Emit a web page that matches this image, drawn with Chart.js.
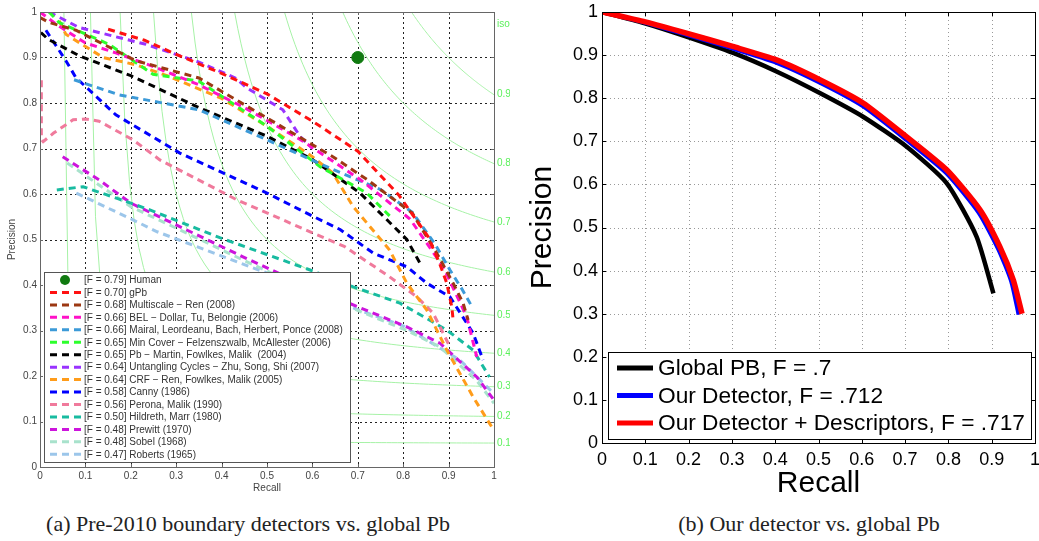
<!DOCTYPE html>
<html>
<head>
<meta charset="utf-8">
<script src="https://cdn.jsdelivr.net/npm/chart.js@4.4.1/dist/chart.umd.min.js"></script>
<style>
  body { margin: 0; background: #fff; width: 1039px; height: 541px; position: relative; overflow: hidden; }
  #left { position: absolute; left: 0; top: 0; }
  #right { position: absolute; left: 520px; top: 0; }
  .cap { position: absolute; top: 513px; font-family: "Liberation Serif", "Times New Roman", serif; font-size: 22px; line-height: 22px; color: #222; text-align: center; white-space: nowrap; }
</style>
</head>
<body>
<canvas id="left" width="510" height="500"></canvas>
<canvas id="right" width="519" height="500"></canvas>
<div class="cap" style="left:0;width:496px">(a) Pre-2010 boundary detectors vs. global Pb</div>
<div class="cap" style="left:609px;width:400px">(b) Our detector vs. global Pb</div>

<script>
const FONT = '"Liberation Sans", Arial, Helvetica, sans-serif';

// ---- left panel: older detectors on BSDS ----
const isoLevels = [0.1, 0.2, 0.3, 0.4, 0.5, 0.6, 0.7, 0.8, 0.9];

const humanR = [0.7];
const humanP = [0.9];

const gpbR = [0.15, 0.23, 0.30, 0.40, 0.50, 0.60, 0.70, 0.79, 0.855, 0.88, 0.896, 0.907, 0.91];
const gpbP = [0.962, 0.938, 0.907, 0.865, 0.82, 0.76, 0.694, 0.598, 0.506, 0.448, 0.404, 0.352, 0.323];

const multiR = [0, 0.02, 0.079, 0.211, 0.35, 0.5, 0.645, 0.72, 0.82, 0.874, 0.91, 0.932, 0.943];
const multiP = [0.988, 0.977, 0.96, 0.893, 0.855, 0.767, 0.682, 0.632, 0.558, 0.47, 0.404, 0.36, 0.323];

const belR = [0, 0.04, 0.10, 0.167, 0.25, 0.35, 0.45, 0.573, 0.705, 0.815, 0.888, 0.94, 0.962];
const belP = [1.0, 0.97, 0.932, 0.91, 0.88, 0.84, 0.79, 0.72, 0.632, 0.545, 0.44, 0.33, 0.242];

const mairalR = [0.075, 0.174, 0.35, 0.5, 0.645, 0.75, 0.82, 0.87, 0.903, 0.93, 0.95];
const mairalP = [0.851, 0.818, 0.785, 0.719, 0.654, 0.61, 0.56, 0.49, 0.433, 0.39, 0.355];

const mincoverR = [0.02, 0.042, 0.152, 0.249, 0.35, 0.5, 0.617, 0.72, 0.778];
const mincoverP = [1.0, 0.977, 0.929, 0.863, 0.848, 0.749, 0.66, 0.602, 0.544];

const pbR = [0.002, 0.018, 0.086, 0.2, 0.35, 0.5, 0.6, 0.705, 0.808, 0.837];
const pbP = [0.955, 0.94, 0.904, 0.86, 0.79, 0.727, 0.676, 0.602, 0.5, 0.448];

const cyclesR = [0.02, 0.086, 0.233, 0.35, 0.43, 0.456, 0.535, 0.573, 0.6];
const cyclesP = [1.0, 0.966, 0.929, 0.89, 0.855, 0.833, 0.785, 0.726, 0.70];

const crfR = [0.042, 0.057, 0.139, 0.211, 0.28, 0.4, 0.5, 0.6, 0.645, 0.69, 0.77, 0.808, 0.852, 0.896, 0.954, 1.0];
const crfP = [0.981, 0.951, 0.9, 0.884, 0.86, 0.81, 0.749, 0.682, 0.646, 0.572, 0.477, 0.404, 0.345, 0.257, 0.154, 0.08];

const cannyR = [0.013, 0.057, 0.079, 0.167, 0.308, 0.5, 0.595, 0.661, 0.734, 0.808, 0.852, 0.903, 0.954, 0.976];
const cannyP = [0.96, 0.893, 0.856, 0.774, 0.69, 0.602, 0.554, 0.522, 0.47, 0.44, 0.404, 0.374, 0.294, 0.235];

const peronaR = [0.003, 0.003, 0.007, 0.03, 0.073, 0.1, 0.13, 0.205, 0.264, 0.434, 0.595, 0.67, 0.77, 0.83, 0.866, 0.903];
const peronaP = [0.85, 0.72, 0.715, 0.734, 0.763, 0.765, 0.76, 0.719, 0.675, 0.587, 0.517, 0.485, 0.418, 0.374, 0.338, 0.264];

const hildrethR = [0.037, 0.095, 0.2, 0.242, 0.396, 0.595, 0.69, 0.793, 0.896, 0.954, 0.99];
const hildrethP = [0.609, 0.616, 0.58, 0.565, 0.504, 0.433, 0.396, 0.36, 0.301, 0.257, 0.198];

const prewittR = [0.05, 0.13, 0.2, 0.3, 0.447, 0.55, 0.661, 0.808, 0.881, 0.962, 1.0];
const prewittP = [0.682, 0.631, 0.58, 0.532, 0.462, 0.415, 0.368, 0.308, 0.272, 0.198, 0.147];

const sobelR = [0.06, 0.13, 0.2, 0.3, 0.447, 0.55, 0.661, 0.808, 0.881, 0.962, 1.0];
const sobelP = [0.668, 0.62, 0.572, 0.525, 0.455, 0.408, 0.36, 0.30, 0.264, 0.19, 0.14];

const robertsR = [0.08, 0.205, 0.258, 0.463, 0.6, 0.683, 0.8, 0.925, 1.0];
const robertsP = [0.602, 0.543, 0.517, 0.44, 0.39, 0.352, 0.31, 0.235, 0.161];

// ---- right panel: our detector vs global Pb ----
const globalR = [0, 0.095, 0.195, 0.303, 0.403, 0.503, 0.603, 0.703, 0.796, 0.865, 0.904];
const globalP = [1.0, 0.975, 0.943, 0.905, 0.862, 0.812, 0.757, 0.688, 0.603, 0.479, 0.347];

const oursR = [0, 0.1, 0.195, 0.302, 0.403, 0.503, 0.603, 0.703, 0.796, 0.87, 0.915, 0.945, 0.962];
const oursP = [1.0, 0.975, 0.947, 0.915, 0.882, 0.836, 0.781, 0.703, 0.625, 0.534, 0.45, 0.375, 0.298];

const descR = [0, 0.1, 0.195, 0.302, 0.403, 0.503, 0.603, 0.703, 0.796, 0.873, 0.919, 0.95, 0.97];
const descP = [1.0, 0.977, 0.951, 0.92, 0.889, 0.843, 0.789, 0.711, 0.634, 0.541, 0.455, 0.378, 0.30];

const pts = (R, P) => R.map((r, i) => ({ x: r, y: P[i] }));
const fmt = v => String(Math.round(v * 10) / 10);

// pin the axis boxes so the plot areas land where they should
function fixedAxis(size) {
  return scale => {
    if (scale.isHorizontal()) scale.height = size; else scale.width = size;
    scale.paddingLeft = scale.paddingRight = scale.paddingTop = scale.paddingBottom = 0;
  };
}

function dashed(label, R, P, color) {
  return {
    label, data: pts(R, P), borderColor: color, backgroundColor: color,
    borderWidth: 3, borderDash: [7, 5], pointRadius: 0, tension: 0, fill: false
  };
}

// dotted grid at the inner ticks
function dottedGrid(color, dash) {
  return {
    id: 'dottedGrid',
    beforeDatasetsDraw(chart) {
      const { ctx, chartArea: a, scales: { x, y } } = chart;
      ctx.save();
      ctx.strokeStyle = color;
      ctx.lineWidth = 1;
      ctx.setLineDash(dash);
      ctx.beginPath();
      x.ticks.forEach(t => {
        if (t.value <= 0 || t.value >= 1) return;
        const px = Math.round(x.getPixelForValue(t.value)) + 0.5;
        ctx.moveTo(px, a.top); ctx.lineTo(px, a.bottom);
      });
      y.ticks.forEach(t => {
        if (t.value <= 0 || t.value >= 1) return;
        const py = Math.round(y.getPixelForValue(t.value)) + 0.5;
        ctx.moveTo(a.left, py); ctx.lineTo(a.right, py);
      });
      ctx.stroke();
      ctx.restore();
    }
  };
}

// box outline plus short inward ticks, matlab style
function frame(color, tickLen) {
  return {
    id: 'frame',
    afterDraw(chart) {
      const { ctx, chartArea: a, scales: { x, y } } = chart;
      ctx.save();
      ctx.strokeStyle = color;
      ctx.lineWidth = 1;
      ctx.beginPath();
      x.ticks.forEach(t => {
        const px = Math.round(x.getPixelForValue(t.value)) + 0.5;
        ctx.moveTo(px, a.bottom); ctx.lineTo(px, a.bottom - tickLen);
        ctx.moveTo(px, a.top); ctx.lineTo(px, a.top + tickLen);
      });
      y.ticks.forEach(t => {
        const py = Math.round(y.getPixelForValue(t.value)) + 0.5;
        ctx.moveTo(a.left, py); ctx.lineTo(a.left + tickLen, py);
        ctx.moveTo(a.right, py); ctx.lineTo(a.right - tickLen, py);
      });
      ctx.stroke();
      ctx.strokeRect(Math.round(a.left) + 0.5, Math.round(a.top) + 0.5,
        Math.round(a.right - a.left), Math.round(a.bottom - a.top));
      ctx.restore();
    }
  };
}

const isoCurves = {
  id: 'isoCurves',
  beforeDatasetsDraw(chart) {
    const { ctx, chartArea: a, scales: { x, y } } = chart;
    ctx.save();
    ctx.beginPath();
    ctx.rect(a.left, a.top, a.right - a.left, a.bottom - a.top);
    ctx.clip();
    ctx.strokeStyle = '#a6f2a6';
    ctx.lineWidth = 1;
    isoLevels.forEach(f => {
      const r0 = f / (2 - f);
      ctx.beginPath();
      for (let k = 0; k <= 80; k++) {
        const r = r0 + (1 - r0) * k / 80;
        const p = f * r / (2 * r - f);
        const px = x.getPixelForValue(r), py = y.getPixelForValue(p);
        if (k === 0) ctx.moveTo(px, py); else ctx.lineTo(px, py);
      }
      ctx.stroke();
    });
    ctx.restore();
  },
  afterDraw(chart) {
    const { ctx, chartArea: a, scales: { y } } = chart;
    ctx.save();
    ctx.fillStyle = '#5cf05c';
    ctx.font = '10px ' + FONT;
    ctx.textBaseline = 'middle';
    ctx.fillText('iso-F', a.right + 3, a.top + 12);
    isoLevels.forEach(f => {
      ctx.fillText(fmt(f), a.right + 3, y.getPixelForValue(f / (2 - f)));
    });
    ctx.restore();
  }
};

const leftLegend = {
  id: 'leftLegend',
  afterDraw(chart) {
    const { ctx, chartArea: a } = chart;
    const w = 306, h = 190, x0 = a.left + 4, y0 = a.bottom - 5 - h;
    ctx.save();
    ctx.fillStyle = '#fff';
    ctx.fillRect(x0, y0, w, h);
    ctx.strokeStyle = '#555';
    ctx.lineWidth = 1;
    ctx.strokeRect(Math.round(x0) + 0.5, Math.round(y0) + 0.5, w, h);
    ctx.font = '10px ' + FONT;
    ctx.textBaseline = 'middle';
    chart.data.datasets.forEach((ds, i) => {
      const yy = y0 + 8 + i * 12.45;
      if (ds.showLine === false) {
        ctx.fillStyle = ds.backgroundColor;
        ctx.beginPath();
        ctx.arc(x0 + 21, yy, 5, 0, Math.PI * 2);
        ctx.fill();
      } else {
        ctx.strokeStyle = ds.borderColor;
        ctx.lineWidth = 3;
        ctx.setLineDash([7, 5]);
        ctx.beginPath();
        ctx.moveTo(x0 + 6, yy);
        ctx.lineTo(x0 + 37, yy);
        ctx.stroke();
        ctx.setLineDash([]);
      }
      ctx.fillStyle = '#333';
      ctx.fillText(ds.label, x0 + 40, yy + 0.5);
    });
    ctx.restore();
  }
};

new Chart(document.getElementById('left'), {
  type: 'line',
  data: {
    datasets: [
      { label: '[F = 0.79] Human', data: pts(humanR, humanP), showLine: false,
        pointRadius: 6, pointHoverRadius: 6, backgroundColor: '#107a10', borderColor: '#107a10' },
      dashed('[F = 0.70] gPb', gpbR, gpbP, '#ff1111'),
      dashed('[F = 0.68] Multiscale \u2212 Ren (2008)', multiR, multiP, '#9c3812'),
      dashed('[F = 0.66] BEL \u2212 Dollar, Tu, Belongie (2006)', belR, belP, '#ff11c8'),
      dashed('[F = 0.66] Mairal, Leordeanu, Bach, Herbert, Ponce (2008)', mairalR, mairalP, '#3c9ad8'),
      dashed('[F = 0.65] Min Cover \u2212 Felzenszwalb, McAllester (2006)', mincoverR, mincoverP, '#2cff2c'),
      dashed('[F = 0.65] Pb \u2212 Martin, Fowlkes, Malik  (2004)', pbR, pbP, '#000000'),
      dashed('[F = 0.64] Untangling Cycles \u2212 Zhu, Song, Shi (2007)', cyclesR, cyclesP, '#9933ff'),
      dashed('[F = 0.64] CRF \u2212 Ren, Fowlkes, Malik (2005)', crfR, crfP, '#ff9c1a'),
      dashed('[F = 0.58] Canny (1986)', cannyR, cannyP, '#0000ff'),
      dashed('[F = 0.56] Perona, Malik (1990)', peronaR, peronaP, '#f07a9c'),
      dashed('[F = 0.50] Hildreth, Marr (1980)', hildrethR, hildrethP, '#18bba0'),
      dashed('[F = 0.48] Prewitt (1970)', prewittR, prewittP, '#cc14dc'),
      dashed('[F = 0.48] Sobel (1968)', sobelR, sobelP, '#a8e2cc'),
      dashed('[F = 0.47] Roberts (1965)', robertsR, robertsP, '#9cc6ea')
    ]
  },
  options: {
    responsive: false,
    animation: false,
    layout: { padding: { left: 0, top: 12, right: 16, bottom: 0 } },
    plugins: { legend: { display: false }, tooltip: { enabled: false } },
    scales: {
      x: {
        type: 'linear', min: 0, max: 1,
        afterFit: fixedAxis(33),
        ticks: { stepSize: 0.1, padding: 3, color: '#444', autoSkip: false, maxRotation: 0,
                 font: { size: 10, family: FONT }, callback: fmt },
        grid: { display: false, drawTicks: false },
        border: { display: false },
        title: { display: true, text: 'Recall', color: '#444', font: { size: 10, family: FONT },
                 padding: { top: 0, bottom: 6 } }
      },
      y: {
        type: 'linear', min: 0, max: 1,
        afterFit: fixedAxis(40),
        ticks: { stepSize: 0.1, padding: 3, color: '#444', autoSkip: false,
                 font: { size: 10, family: FONT }, callback: fmt },
        grid: { display: false, drawTicks: false },
        border: { display: false },
        title: { display: true, text: 'Precision', color: '#444', font: { size: 10, family: FONT },
                 padding: { top: 6, bottom: 0 } }
      }
    }
  },
  plugins: [dottedGrid('#222', [2, 3]), isoCurves, leftLegend, frame('#666', 3)]
});

const rightLegend = {
  id: 'rightLegend',
  afterDraw(chart) {
    const { ctx, chartArea: a } = chart;
    const x0 = a.left + 6, w = 423, h = 87, y0 = a.bottom - 4 - h;
    ctx.save();
    ctx.fillStyle = '#fff';
    ctx.fillRect(x0, y0, w, h);
    ctx.strokeStyle = '#000';
    ctx.lineWidth = 1;
    ctx.strokeRect(Math.round(x0) + 0.5, Math.round(y0) + 0.5, w, h);
    ctx.font = '22.7px ' + FONT;
    ctx.textBaseline = 'middle';
    chart.data.datasets.forEach((ds, i) => {
      const yy = y0 + 16 + i * 27.5;
      ctx.strokeStyle = ds.borderColor;
      ctx.lineWidth = 5;
      ctx.beginPath();
      ctx.moveTo(x0 + 9, yy);
      ctx.lineTo(x0 + 45, yy);
      ctx.stroke();
      ctx.fillStyle = '#000';
      ctx.fillText(ds.label, x0 + 50, yy + 1);
    });
    ctx.restore();
  }
};

new Chart(document.getElementById('right'), {
  type: 'line',
  data: {
    datasets: [
      { label: 'Global PB, F = .7', data: pts(globalR, globalP), borderColor: '#000000',
        borderWidth: 4.5, pointRadius: 0, tension: 0.2, order: 2 },
      { label: 'Our Detector, F = .712', data: pts(oursR, oursP), borderColor: '#0000ff',
        borderWidth: 4, pointRadius: 0, tension: 0.2, order: 1 },
      { label: 'Our Detector + Descriptors, F = .717', data: pts(descR, descP), borderColor: '#ff0000',
        borderWidth: 5.5, pointRadius: 0, tension: 0.2, order: 0 }
    ]
  },
  options: {
    responsive: false,
    animation: false,
    layout: { padding: { left: 0, top: 12, right: 4, bottom: 0 } },
    plugins: { legend: { display: false }, tooltip: { enabled: false } },
    scales: {
      x: {
        type: 'linear', min: 0, max: 1,
        afterFit: fixedAxis(57),
        ticks: { stepSize: 0.1, padding: 6, color: '#000', autoSkip: false, maxRotation: 0,
                 font: { size: 18, family: FONT }, callback: fmt },
        grid: { display: false, drawTicks: false },
        border: { display: false },
        title: { display: true, text: 'Recall', color: '#000',
                 font: { size: 30, family: FONT, lineHeight: 1 }, padding: { top: 0, bottom: 1 } }
      },
      y: {
        type: 'linear', min: 0, max: 1,
        afterFit: fixedAxis(82),
        ticks: { stepSize: 0.1, padding: 4, color: '#000', autoSkip: false,
                 font: { size: 18, family: FONT }, callback: fmt },
        grid: { display: false, drawTicks: false },
        border: { display: false },
        title: { display: true, text: 'Precision', color: '#000',
                 font: { size: 30, family: FONT, lineHeight: 1 }, padding: { top: 8, bottom: 0 } }
      }
    }
  },
  plugins: [dottedGrid('#999', [1, 3]), rightLegend, frame('#000', 4)]
});
</script>
</body>
</html>
